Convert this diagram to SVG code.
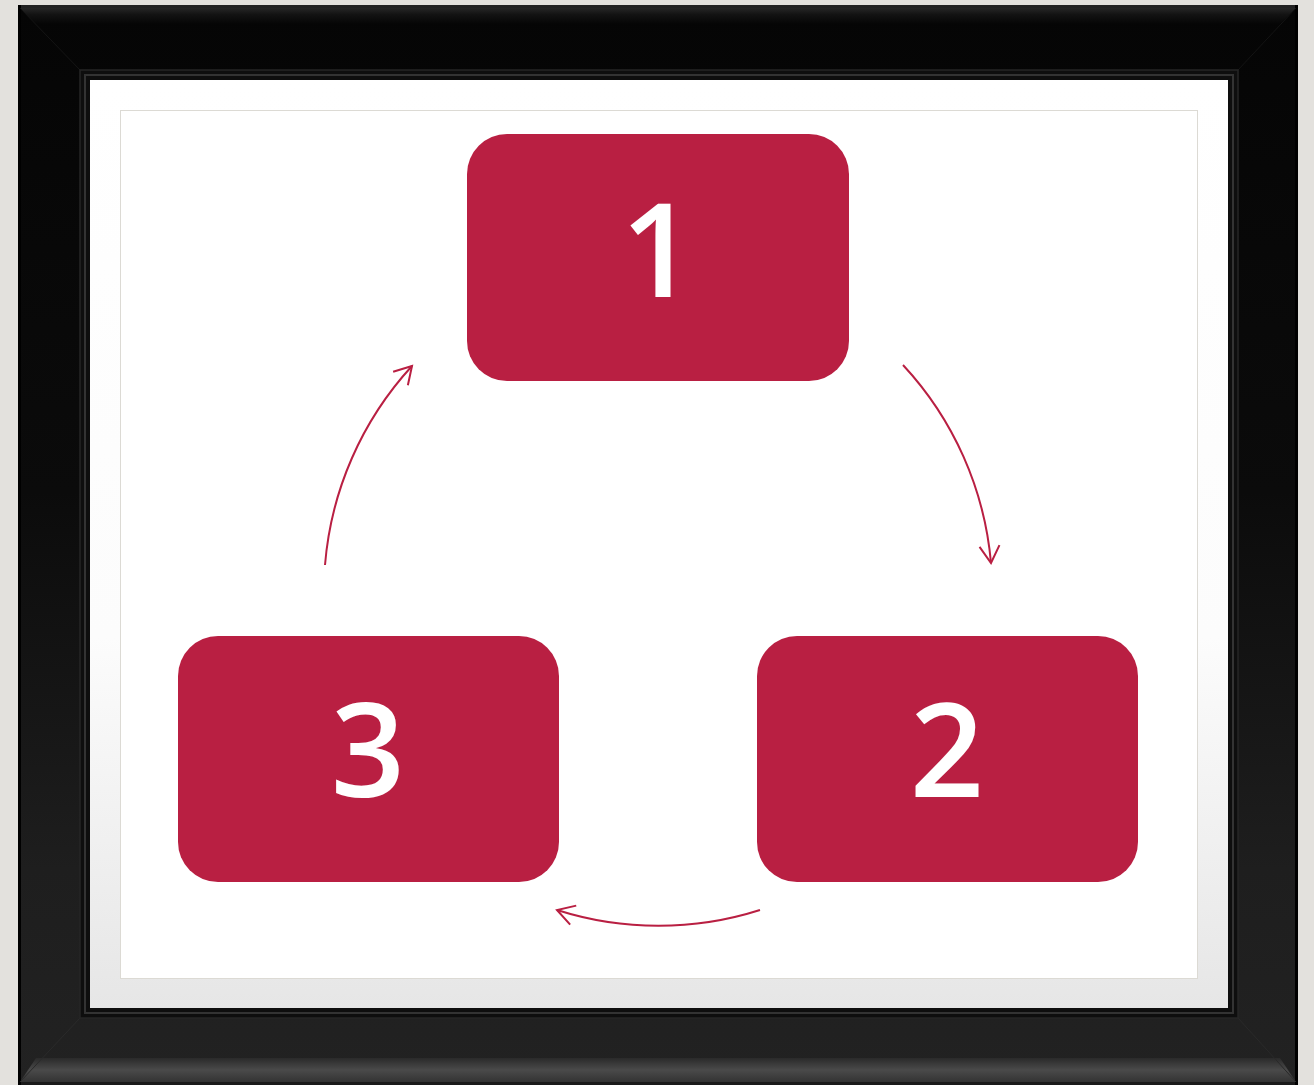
<svg xmlns="http://www.w3.org/2000/svg" width="1314" height="1085" viewBox="0 0 1314 1085">
<defs>
<linearGradient id="frameG" x1="0" y1="0" x2="0" y2="1">
<stop offset="0" stop-color="#050505"/>
<stop offset="0.45" stop-color="#0b0b0b"/>
<stop offset="0.8" stop-color="#1e1e1e"/>
<stop offset="1" stop-color="#222222"/>
</linearGradient>
<linearGradient id="bottomBevel" x1="0" y1="0" x2="0" y2="1">
<stop offset="0" stop-color="#2a2a2a"/>
<stop offset="0.5" stop-color="#4a4a4a"/>
<stop offset="1" stop-color="#333333"/>
</linearGradient>
<linearGradient id="topBevel" x1="0" y1="0" x2="0" y2="1">
<stop offset="0" stop-color="#262626"/>
<stop offset="0.4" stop-color="#131313"/>
<stop offset="1" stop-color="#050505"/>
</linearGradient>
<linearGradient id="matG" x1="0" y1="0" x2="0" y2="1">
<stop offset="0" stop-color="#ffffff"/>
<stop offset="0.6" stop-color="#fcfcfc"/>
<stop offset="1" stop-color="#e6e6e6"/>
</linearGradient>
<marker id="arr" markerUnits="userSpaceOnUse" markerWidth="40" markerHeight="40" refX="0" refY="0" viewBox="-20 -20 40 40" orient="auto">
<path d="M-17,-10 L0,0 L-17,10" fill="none" stroke="#b91f42" stroke-width="2"/>
</marker>
<style>
.node{fill:#b91f42}
.lbl{fill:#ffffff;font-family:"Open Sans","DejaVu Sans",sans-serif;font-size:130px;font-weight:600;text-anchor:middle}
.conn{fill:none;stroke:#b91f42;stroke-width:2;marker-end:url(#arr)}
</style>
</defs>
<g id="frame">
<rect x="0" y="0" width="1314" height="1085" fill="#e3e1dd"/>
<rect x="18" y="5" width="1280" height="1080" fill="url(#frameG)"/>
<rect x="18" y="5" width="1280" height="3" fill="#222222"/>
<path d="M20,8 L1296,8 L1280,24 L36,24 Z" fill="url(#topBevel)"/>
<path d="M36,1058 L1280,1058 L1296,1082 L20,1082 Z" fill="url(#bottomBevel)"/>
<rect x="18" y="1082" width="1280" height="3" fill="#1a1a1a"/>
<rect x="18" y="5" width="3" height="1080" fill="#000000"/>
<rect x="1295" y="5" width="3" height="1080" fill="#000000"/>
<line x1="20" y1="8" x2="80" y2="70" stroke="#141414" stroke-width="1"/>
<line x1="1296" y1="8" x2="1238" y2="70" stroke="#141414" stroke-width="1"/>
<line x1="20" y1="1082" x2="80" y2="1018" stroke="#2a2a2a" stroke-width="1"/>
<line x1="1296" y1="1082" x2="1238" y2="1018" stroke="#2a2a2a" stroke-width="1"/>
<rect x="80" y="70" width="1158" height="948" fill="#0e0e0e" stroke="#262626" stroke-width="1.5"/>
<rect x="85" y="75" width="1148" height="938" fill="none" stroke="#333333" stroke-width="2"/>
<rect x="90" y="80" width="1138" height="928" fill="url(#matG)"/>
<rect x="120.5" y="110.5" width="1077" height="868" fill="#ffffff" stroke="#dcdad4" stroke-width="1"/>
</g>
<g id="connectors">
<path class="conn" d="M903,365 A334,334 0 0 1 991,563"/>
<path class="conn" d="M760,910 A334,334 0 0 1 557,910"/>
<path class="conn" d="M325,565 A334,334 0 0 1 412,366"/>
</g>
<g id="node1">
<rect class="node" x="467" y="134" width="382" height="247" rx="40" ry="40"/>
<text class="lbl" x="658" y="297">1</text>
</g>
<g id="node2">
<rect class="node" x="757" y="636" width="381" height="246" rx="40" ry="40"/>
<text class="lbl" x="947" y="797">2</text>
</g>
<g id="node3">
<rect class="node" x="178" y="636" width="381" height="246" rx="40" ry="40"/>
<text class="lbl" x="368" y="797">3</text>
</g>
</svg>
